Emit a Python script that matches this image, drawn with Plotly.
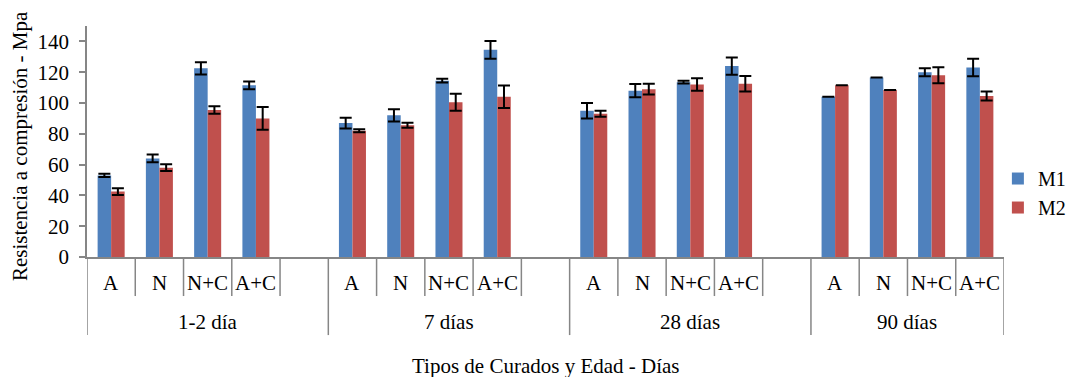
import plotly.graph_objects as go

# ---------------- data ----------------
groups = ["1-2 día", "7 días", "28 días", "90 días"]
curados = ["A", "N", "N+C", "A+C"]
blank_after = [True, True, True, False]  # empty slot after each group (Excel layout)

m1_values = [53, 64, 122.5, 111.5,
             87, 92, 114.5, 134.5,
             95, 108, 113.5, 124,
             104, 116.5, 120, 123]
m2_values = [42.5, 58, 95.5, 90,
             82, 85.5, 100.5, 104,
             93, 109, 112, 112.5,
             111.5, 108.5, 118, 104.5]
m1_err = [1, 2.5, 4, 2.5,
          3.5, 4, 1.2, 5.7,
          5, 4.3, 0.9, 5.6,
          None, None, 2.6, 5.7]
m2_err = [2.2, 2.2, 2.4, 7.4,
          1, 1.6, 5.5, 7.3,
          2, 3.5, 4.1, 5,
          None, None, 5.2, 2.9]

y_ticks = [0, 20, 40, 60, 80, 100, 120, 140]
series_names = ["M1", "M2"]
colors = ["#4F81BD", "#C0504D"]

# ---------------- category layout ----------------
cat_keys = []      # all slots, including blank slots
bar_keys = []      # slots holding bars
group_bounds = []  # (start_index, end_index) per group
for g, has_blank in zip(groups, blank_after):
    start = len(cat_keys)
    for c in curados:
        k = f"{g}|{c}"
        cat_keys.append(k)
        bar_keys.append(k)
    if has_blank:
        cat_keys.append(f"{g}|_")
    group_bounds.append((start, len(cat_keys)))

FONT = "'Times New Roman', 'Liberation Serif', Times, serif"
FS = 21
AX = "#868686"

fig = go.Figure()
for name, vals, errs, col in zip(series_names, [m1_values, m2_values], [m1_err, m2_err], colors):
    fig.add_trace(go.Bar(
        x=bar_keys, y=vals, name=name,
        marker=dict(color=col, line=dict(width=0)),
        error_y=dict(type="data", array=errs, visible=True,
                     color="black", thickness=2, width=6),
    ))

shapes = []
ann = []
n = len(cat_keys)
group_edges = set()
for s, e in group_bounds:
    group_edges.add(s)
    group_edges.add(e)
for k in range(n + 1):
    long = k in group_edges
    shapes.append(dict(type="line", xref="x", yref="paper",
                       x0=k - 0.5, x1=k - 0.5, y0=0, y1=-0.338 if long else -0.169,
                       line=dict(color=AX, width=1.5)))

for key in bar_keys:
    ann.append(dict(x=key, y=-0.113, xref="x", yref="paper", text=key.split("|")[1],
                    showarrow=False, font=dict(family=FONT, size=FS, color="black"),
                    yanchor="middle"))
for g, (s, e) in zip(groups, group_bounds):
    ann.append(dict(x=(s + e - 1) / 2, y=-0.281, xref="x", yref="paper", text=g,
                    showarrow=False, font=dict(family=FONT, size=FS, color="black"),
                    yanchor="middle"))

ann.append(dict(x=0.5, y=-0.472, xref="paper", yref="paper",
                text="Tipos de Curados y Edad - Días", showarrow=False,
                font=dict(family=FONT, size=FS, color="black"), yanchor="middle"))
ann.append(dict(x=0, xshift=-67, y=0.48, xref="paper", yref="paper",
                text="Resistencia a compresión - Mpa", showarrow=False, textangle=-90,
                font=dict(family=FONT, size=FS, color="black"),
                xanchor="center", yanchor="middle"))

fig.update_layout(
    width=1073, height=377,
    margin=dict(l=87, r=69, t=26, b=120, autoexpand=False),
    paper_bgcolor="white", plot_bgcolor="white",
    barmode="group", bargap=0.44, bargroupgap=0,
    font=dict(family=FONT, size=FS, color="black"),
    showlegend=True,
    legend=dict(xref="container", yref="container", x=0.93, y=0.488,
                xanchor="left", yanchor="middle",
                font=dict(family=FONT, size=20, color="black"),
                bgcolor="rgba(0,0,0,0)", tracegroupgap=4),
    xaxis=dict(type="category", categoryorder="array", categoryarray=cat_keys,
               range=[-0.5, n - 0.5], showticklabels=False, ticks="",
               showline=True, linecolor=AX, linewidth=1.5, showgrid=False,
               zeroline=False, fixedrange=True),
    yaxis=dict(range=[0, 150], tickvals=y_ticks, ticks="outside", ticklen=6,
               tickcolor=AX, tickwidth=1.5, showline=True, linecolor=AX, linewidth=1.5,
               showgrid=False, zeroline=False, ticklabelstandoff=6,
               tickfont=dict(family=FONT, size=FS, color="black")),
    shapes=shapes, annotations=ann,
)

fig.write_html("out.html")
